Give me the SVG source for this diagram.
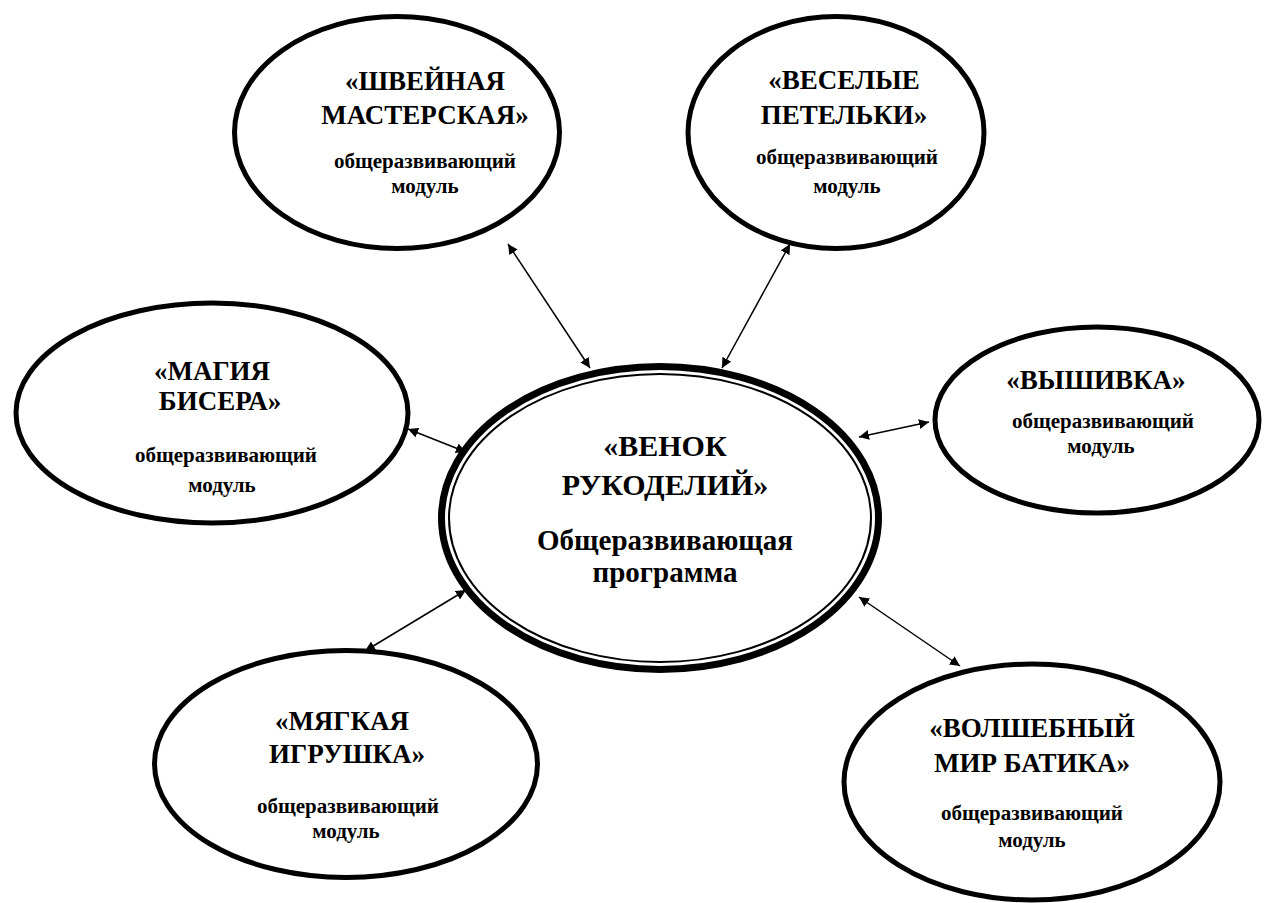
<svg xmlns="http://www.w3.org/2000/svg" width="1265" height="903" viewBox="0 0 1265 903">
<defs>
<style>
.node{fill:#fff;stroke:#000;stroke-width:5}
text{font-family:"Liberation Serif","DejaVu Serif",serif;font-weight:bold;fill:#000;text-anchor:middle}
.h{font-size:27px}
.s{font-size:21px}
.c{font-size:30px}
.c2{font-size:29px}
.con{stroke:#000;stroke-width:1.5;fill:none;marker-start:url(#ah);marker-end:url(#ah)}
</style>
<marker id="ah" viewBox="0 0 10 10" refX="10" refY="5" markerWidth="10" markerHeight="10" markerUnits="userSpaceOnUse" orient="auto-start-reverse">
<path d="M0,0 L10,5 L0,10 z" fill="#000"/>
</marker>
</defs>
<rect width="1265" height="903" fill="#fff"/>
<g id="center">
<ellipse cx="660" cy="518" rx="218.5" ry="151.5" fill="#fff" stroke="#000" stroke-width="7"/>
<ellipse cx="660" cy="518" rx="211" ry="144" fill="none" stroke="#000" stroke-width="2"/>
<text class="c" x="665" y="456">«ВЕНОК</text>
<text class="c" x="665" y="495">РУКОДЕЛИЙ»</text>
<text class="c2" x="665" y="550">Общеразвивающая</text>
<text class="c2" x="665" y="582">программа</text>
</g>
<g id="shveinaya">
<ellipse class="node" cx="397" cy="132.5" rx="162.5" ry="116"/>
<text class="h" x="425" y="90">«ШВЕЙНАЯ</text>
<text class="h" x="425" y="124">МАСТЕРСКАЯ»</text>
<text class="s" x="425" y="168">общеразвивающий</text>
<text class="s" x="425" y="193">модуль</text>
</g>
<g id="petelki">
<ellipse class="node" cx="836" cy="132.5" rx="148" ry="116"/>
<text class="h" x="844" y="89">«ВЕСЕЛЫЕ</text>
<text class="h" x="844" y="124">ПЕТЕЛЬКИ»</text>
<text class="s" x="847" y="164">общеразвивающий</text>
<text class="s" x="847" y="193">модуль</text>
</g>
<g id="biser">
<ellipse class="node" cx="212" cy="413" rx="196" ry="110"/>
<text class="h" x="212" y="380">«МАГИЯ</text>
<text class="h" x="220" y="410">БИСЕРА»</text>
<text class="s" x="226" y="462">общеразвивающий</text>
<text class="s" x="222" y="492">модуль</text>
</g>
<g id="vyshivka">
<ellipse class="node" cx="1097" cy="420" rx="162" ry="93"/>
<text class="h" x="1096" y="389">«ВЫШИВКА»</text>
<text class="s" x="1103" y="428">общеразвивающий</text>
<text class="s" x="1101" y="453">модуль</text>
</g>
<g id="igrushka">
<ellipse class="node" cx="346" cy="764" rx="191.5" ry="113.5"/>
<text class="h" x="342" y="730">«МЯГКАЯ</text>
<text class="h" x="347" y="763">ИГРУШКА»</text>
<text class="s" x="348" y="813">общеразвивающий</text>
<text class="s" x="346" y="838">модуль</text>
</g>
<g id="batik">
<ellipse class="node" cx="1032" cy="782" rx="188" ry="118"/>
<text class="h" x="1032" y="737">«ВОЛШЕБНЫЙ</text>
<text class="h" x="1032" y="772">МИР БАТИКА»</text>
<text class="s" x="1032" y="820">общеразвивающий</text>
<text class="s" x="1032" y="847">модуль</text>
</g>
<g id="connectors">
<line class="con" x1="508" y1="244" x2="590" y2="368"/>
<line class="con" x1="790" y1="244" x2="722" y2="368"/>
<line class="con" x1="408" y1="429" x2="466" y2="452"/>
<line class="con" x1="859" y1="437" x2="929" y2="422"/>
<line class="con" x1="466" y1="590" x2="365" y2="651"/>
<line class="con" x1="859" y1="597" x2="960" y2="666"/>
</g>
</svg>
